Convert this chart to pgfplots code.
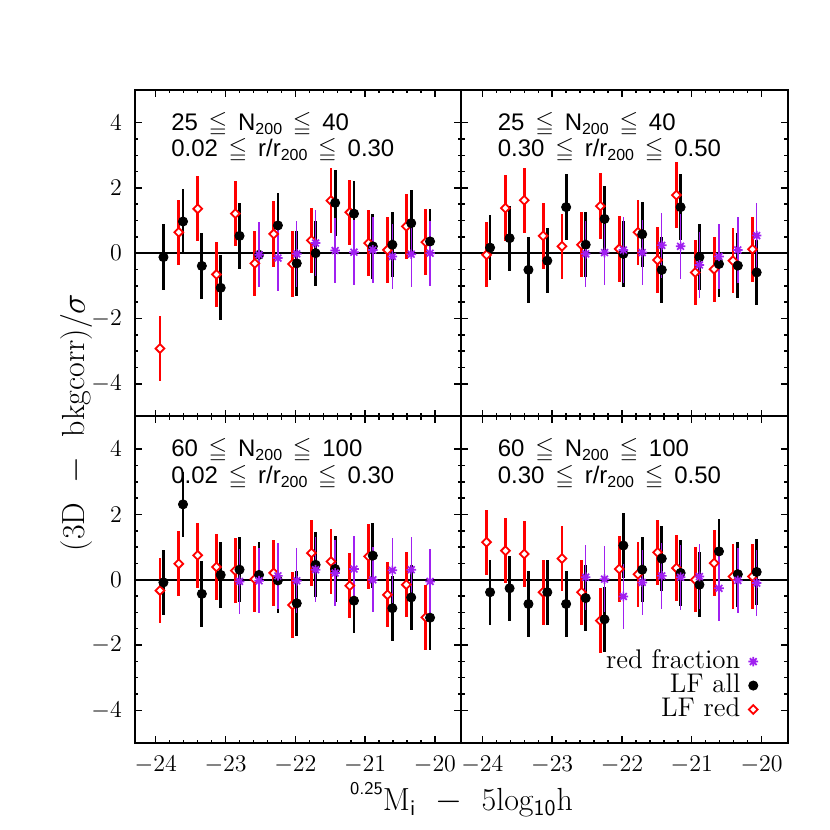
\documentclass[border=0pt]{standalone}
\usepackage{fontspec}
\newfontfamily\helv{Liberation Sans}
\usepackage{amsmath}
\usepackage{amssymb}
\usepackage{pgfplots}
\usepackage{pgfplotstable}
\pgfplotsset{compat=1.18}
\usepgfplotslibrary{groupplots}
\usetikzlibrary{calc}
\definecolor{idlpurple}{RGB}{160,32,240}

\pgfdeclareplotmark{star8}{%
 \pgfpathmoveto{\pgfqpoint{-\pgfplotmarksize}{0pt}}\pgfpathlineto{\pgfqpoint{\pgfplotmarksize}{0pt}}%
 \pgfpathmoveto{\pgfqpoint{0pt}{-\pgfplotmarksize}}\pgfpathlineto{\pgfqpoint{0pt}{\pgfplotmarksize}}%
 \pgfpathmoveto{\pgfqpoint{-.707\pgfplotmarksize}{-.707\pgfplotmarksize}}\pgfpathlineto{\pgfqpoint{.707\pgfplotmarksize}{.707\pgfplotmarksize}}%
 \pgfpathmoveto{\pgfqpoint{-.707\pgfplotmarksize}{.707\pgfplotmarksize}}\pgfpathlineto{\pgfqpoint{.707\pgfplotmarksize}{-.707\pgfplotmarksize}}%
 \pgfusepathqstroke}
\pgfdeclareplotmark{sqdiamond}{%
 \pgfpathmoveto{\pgfqpoint{0pt}{\pgfplotmarksize}}%
 \pgfpathlineto{\pgfqpoint{\pgfplotmarksize}{0pt}}%
 \pgfpathlineto{\pgfqpoint{0pt}{-\pgfplotmarksize}}%
 \pgfpathlineto{\pgfqpoint{-\pgfplotmarksize}{0pt}}%
 \pgfpathclose\pgfusepathqfillstroke}

\pgfplotsset{
 redpts/.style={only marks, mark=sqdiamond, mark size=2.2pt,
   mark options={draw=red, fill=white, line width=0.9pt},
   error bars/y dir=both, error bars/y fixed=1, error bars/error mark=none,
   error bars/error bar style={red, line width=1.4pt}},
 blackpts/.style={only marks, mark=*, mark size=2.3pt,
   mark options={draw=black, fill=black},
   error bars/y dir=both, error bars/y fixed=1, error bars/error mark=none,
   error bars/error bar style={black, line width=1.4pt}},
 purplepts/.style={only marks, mark=star8, mark size=2.4pt,
   mark options={draw=idlpurple, line width=0.85pt},
   error bars/y dir=both, error bars/y fixed=1, error bars/error mark=none,
   error bars/error bar style={idlpurple, line width=0.7pt}},
}

\pgfplotstableread{
xr xb r b s
-23.94 -23.89 -2.92 -0.12 nan
-23.67 -23.61 0.64 0.97 nan
-23.40 -23.34 1.36 -0.39 nan
-23.13 -23.07 -0.65 -1.06 nan
-22.86 -22.80 1.21 0.53 nan
-22.58 -22.52 -0.31 -0.05 -0.05
-22.31 -22.25 0.59 0.85 -0.15
-22.04 -21.98 -0.33 -0.31 -0.02
-21.77 -21.71 0.39 0.00 0.31
-21.49 -21.43 1.61 1.54 0.08
-21.22 -21.16 1.25 1.21 0.03
-20.95 -20.89 0.31 0.21 0.10
-20.68 -20.61 0.10 0.26 -0.10
-20.41 -20.34 0.82 0.92 -0.03
-20.13 -20.07 0.34 0.36 0.00
}\tA
\pgfplotstableread{
xr xb r b s
-23.94 -23.89 -0.05 0.17 nan
-23.67 -23.61 1.38 0.46 nan
-23.40 -23.34 1.62 -0.51 nan
-23.13 -23.07 0.53 -0.23 nan
-22.86 -22.80 0.21 1.41 nan
-22.58 -22.52 0.26 0.26 -0.02
-22.31 -22.25 1.44 1.05 0.02
-22.04 -21.98 0.13 -0.02 0.10
-21.77 -21.71 0.64 0.58 0.02
-21.49 -21.43 -0.21 -0.51 0.24
-21.22 -21.16 1.78 1.41 0.21
-20.95 -20.89 -0.59 -0.12 -0.36
-20.68 -20.61 -0.49 -0.33 -0.10
-20.41 -20.34 -0.23 -0.38 0.10
-20.13 -20.07 0.12 -0.59 0.54
}\tB
\pgfplotstableread{
xr xb r b s
-23.94 -23.89 -0.33 -0.08 nan
-23.67 -23.61 0.49 2.31 nan
-23.40 -23.34 0.75 -0.43 nan
-23.13 -23.07 0.39 0.15 nan
-22.86 -22.80 0.28 0.31 -0.05
-22.58 -22.52 0.02 0.15 -0.03
-22.31 -22.25 0.21 -0.02 0.12
-22.04 -21.98 -0.77 -0.72 -0.03
-21.77 -21.71 0.82 0.46 0.31
-21.49 -21.43 0.56 0.33 0.21
-21.22 -21.16 -0.18 -0.64 0.33
-20.95 -20.89 0.72 0.74 0.00
-20.68 -20.61 -0.46 -0.87 0.29
-20.41 -20.34 -0.15 -0.54 0.31
-20.13 -20.07 -1.15 -1.16 -0.05
}\tC
\pgfplotstableread{
xr xb r b s
-23.94 -23.89 1.15 -0.38 nan
-23.67 -23.61 0.89 -0.26 nan
-23.40 -23.34 0.79 -0.74 nan
-23.13 -23.07 -0.38 -0.38 nan
-22.86 -22.80 0.65 -0.74 nan
-22.58 -22.52 -0.38 -0.56 0.08
-22.31 -22.25 -1.25 -1.21 0.02
-22.04 -21.98 0.33 1.05 -0.51
-21.77 -21.71 0.17 0.31 -0.08
-21.49 -21.43 0.84 0.65 0.12
-21.22 -21.16 0.36 0.21 0.08
-20.95 -20.89 0.00 -0.15 0.10
-20.68 -20.61 0.51 0.87 -0.26
-20.41 -20.34 0.10 0.17 -0.02
-20.13 -20.07 0.10 0.24 -0.10
}\tD

\newcommand\subs[1]{\raisebox{-0.3ex}{\fontsize{8}{8}\selectfont #1}}
\newcommand\gap{\hspace{0.45em}}
\newcommand\panelfont{\helv\fontsize{12}{14}\selectfont}

\begin{document}
\begin{tikzpicture}
\begin{groupplot}[
  group style={group size=2 by 2, horizontal sep=0pt, vertical sep=0pt,
    x descriptions at=edge bottom, y descriptions at=edge left},
  width=163.5pt, height=163.5pt, scale only axis,
  xmin=-24.3, xmax=-19.62, ymin=-5, ymax=5,
  xtick={-24,-23,-22,-21,-20}, ytick={-4,-2,0,2,4},
  minor x tick num=4, minor y tick num=3,
  tick align=inside, major tick length=3.5pt, minor tick length=1.8pt,
  axis line style={line width=1pt},
  every tick/.style={black, line width=0.7pt},
  tick label style={font=\fontsize{12}{14}\selectfont},
  xticklabel style={yshift=-3pt},
  yticklabel style={xshift=-3pt},
  legend image code/.code={\draw[#1] plot coordinates {(0.15cm,0cm)}; \path (0cm,0cm) (0.3cm,0cm);},
]
\nextgroupplot
\addplot[forget plot, black, line width=0.9pt] coordinates {(-24.3,0) (-19.62,0)};
\addplot[redpts] table[x=xr, y=r] {\tA};
\addplot[blackpts] table[x=xb, y=b] {\tA};
\addplot[purplepts] table[x=xb, y=s] {\tA};
\node[anchor=base west, font=\panelfont] at (rel axis cs:0.09,0.876) {25\gap$\leqq$\gap N\subs{200}\gap$\leqq$\gap 40};
\node[anchor=base west, font=\panelfont] at (rel axis cs:0.09,0.795) {0.02\gap$\leqq$\gap r/r\subs{200}\gap$\leqq$\gap 0.30};

\nextgroupplot
\addplot[forget plot, black, line width=0.9pt] coordinates {(-24.3,0) (-19.62,0)};
\addplot[redpts] table[x=xr, y=r] {\tB};
\addplot[blackpts] table[x=xb, y=b] {\tB};
\addplot[purplepts] table[x=xb, y=s] {\tB};
\node[anchor=base west, font=\panelfont] at (rel axis cs:0.09,0.876) {25\gap$\leqq$\gap N\subs{200}\gap$\leqq$\gap 40};
\node[anchor=base west, font=\panelfont] at (rel axis cs:0.09,0.795) {0.30\gap$\leqq$\gap r/r\subs{200}\gap$\leqq$\gap 0.50};

\nextgroupplot
\addplot[forget plot, black, line width=0.9pt] coordinates {(-24.3,0) (-19.62,0)};
\addplot[redpts] table[x=xr, y=r] {\tC};
\addplot[blackpts] table[x=xb, y=b] {\tC};
\addplot[purplepts] table[x=xb, y=s] {\tC};
\node[anchor=base west, font=\panelfont] at (rel axis cs:0.09,0.876) {60\gap$\leqq$\gap N\subs{200}\gap$\leqq$\gap 100};
\node[anchor=base west, font=\panelfont] at (rel axis cs:0.09,0.795) {0.02\gap$\leqq$\gap r/r\subs{200}\gap$\leqq$\gap 0.30};

\nextgroupplot[
  reverse legend, legend plot pos=right, legend cell align=right,
  legend style={at={(0.922,0.2875)}, anchor=north east, draw=none, fill=none,
    inner sep=0pt, column sep=1.5pt, row sep=0pt,
    font=\fontsize{13.5}{15}\selectfont,
    nodes={inner sep=0.5pt, text height=9pt, text depth=2pt}},
]
\addplot[forget plot, black, line width=0.9pt] coordinates {(-24.3,0) (-19.62,0)};
\addplot[redpts] table[x=xr, y=r] {\tD};
\addlegendentry{LF red}
\addplot[blackpts] table[x=xb, y=b] {\tD};
\addlegendentry{LF all}
\addplot[purplepts] table[x=xb, y=s] {\tD};
\addlegendentry{red fraction}
\node[anchor=base west, font=\panelfont] at (rel axis cs:0.09,0.876) {60\gap$\leqq$\gap N\subs{200}\gap$\leqq$\gap 100};
\node[anchor=base west, font=\panelfont] at (rel axis cs:0.09,0.795) {0.30\gap$\leqq$\gap r/r\subs{200}\gap$\leqq$\gap 0.50};
\end{groupplot}
\node[anchor=base, font=\fontsize{16}{18}\selectfont] at ($(group c1r2.south east)+(0,-33.5pt)$)
  {\raisebox{1.1ex}{\sffamily\fontsize{9}{9}\selectfont 0.25}M$_{\textsf{i}}$\ \ $-$\ \ 5log$_{\textsf{10}}$h};
\node[anchor=base, rotate=90, font=\fontsize{16}{18}\selectfont] at ($(group c1r1.south west)+(-25pt,-3pt)$)
  {(3D\ \ $-$\ \ bkgcorr)/$\sigma$};
\path ($(group c1r2.south west)+(-67.5pt,-43.5pt)$) rectangle ($(group c2r1.north east)+(20.5pt,45pt)$);
\end{tikzpicture}
\end{document}
